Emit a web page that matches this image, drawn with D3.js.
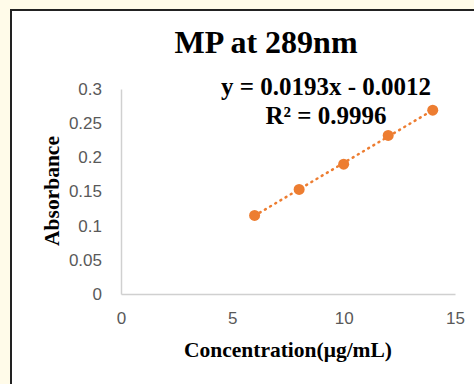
<!DOCTYPE html>
<html>
<head>
<meta charset="utf-8">
<script src="https://cdn.jsdelivr.net/npm/d3@7"></script>
<style>
  html, body { margin: 0; padding: 0; background: #fffbe9; }
  svg { display: block; }
</style>
</head>
<body>
<div id="chart"></div>
<script>
const concentration = [6, 8, 10, 12, 14];
const absorbance = [0.115, 0.153, 0.19, 0.232, 0.269];
const xTicks = [0, 5, 10, 15];
const yTicks = [0, 0.05, 0.1, 0.15, 0.2, 0.25, 0.3];
const slope = 0.0193, intercept = -0.0012;

const width = 474, height = 384;
const svg = d3.select("#chart").append("svg")
    .attr("width", width)
    .attr("height", height);

// chart area box
svg.append("rect")
    .attr("x", 11).attr("y", 10)
    .attr("width", 480).attr("height", 400)
    .attr("fill", "#fff")
    .attr("stroke", "#222")
    .attr("stroke-width", 2);

const x = d3.scaleLinear().domain([0, 15]).range([121, 455]);
const y = d3.scaleLinear().domain([0, 0.3]).range([294, 89]);

// axes (no tick marks, light gray lines)
const xAxis = svg.append("g")
    .attr("transform", `translate(0,${y(0)})`)
    .call(d3.axisBottom(x).tickValues(xTicks).tickSize(0).tickPadding(18).tickFormat(d3.format("d")));
const yAxis = svg.append("g")
    .attr("transform", `translate(${x(0)},0)`)
    .call(d3.axisLeft(y).tickValues(yTicks).tickSize(0).tickPadding(19).tickFormat(d => d === 0 ? "0" : String(+d.toFixed(2))));

[xAxis, yAxis].forEach(g => {
    g.select(".domain").attr("stroke", "#d0d0d0").attr("stroke-width", 1.5);
    g.selectAll("text")
        .attr("fill", "#595959")
        .style("font-family", "'Liberation Sans', Arial, sans-serif")
        .style("font-size", "17px");
});

// trendline
const trend = d3.line().x(d => x(d)).y(d => y(slope * d + intercept));
svg.append("path")
    .datum([concentration[0], concentration[concentration.length - 1]])
    .attr("d", trend)
    .attr("fill", "none")
    .attr("stroke", "#ed7d31")
    .attr("stroke-width", 2.5)
    .attr("stroke-dasharray", "1,5")
    .attr("stroke-linecap", "round");

// points
svg.selectAll(".pt")
    .data(concentration)
    .enter()
    .append("circle")
    .attr("class", "pt")
    .attr("cx", d => x(d))
    .attr("cy", (d, i) => y(absorbance[i]))
    .attr("r", 5.5)
    .attr("fill", "#ed7d31");

const serif = "'Liberation Serif', 'Times New Roman', serif";

svg.append("text")
    .attr("x", 266).attr("y", 53)
    .attr("text-anchor", "middle")
    .style("font-family", serif)
    .style("font-weight", "bold")
    .style("font-size", "32px")
    .text("MP at 289nm");

svg.append("text")
    .attr("x", 326).attr("y", 95)
    .attr("text-anchor", "middle")
    .style("font-family", serif)
    .style("font-weight", "bold")
    .style("font-size", "25px")
    .text("y = 0.0193x - 0.0012");

svg.append("text")
    .attr("x", 326).attr("y", 124)
    .attr("text-anchor", "middle")
    .style("font-family", serif)
    .style("font-weight", "bold")
    .style("font-size", "25px")
    .text("R² = 0.9996");

svg.append("text")
    .attr("transform", "translate(59,191) rotate(-90)")
    .attr("text-anchor", "middle")
    .style("font-family", serif)
    .style("font-weight", "bold")
    .style("font-size", "21.5px")
    .text("Absorbance");

svg.append("text")
    .attr("x", 288).attr("y", 357)
    .attr("text-anchor", "middle")
    .style("font-family", serif)
    .style("font-weight", "bold")
    .style("font-size", "21.5px")
    .text("Concentration(μg/mL)");
</script>
</body>
</html>
